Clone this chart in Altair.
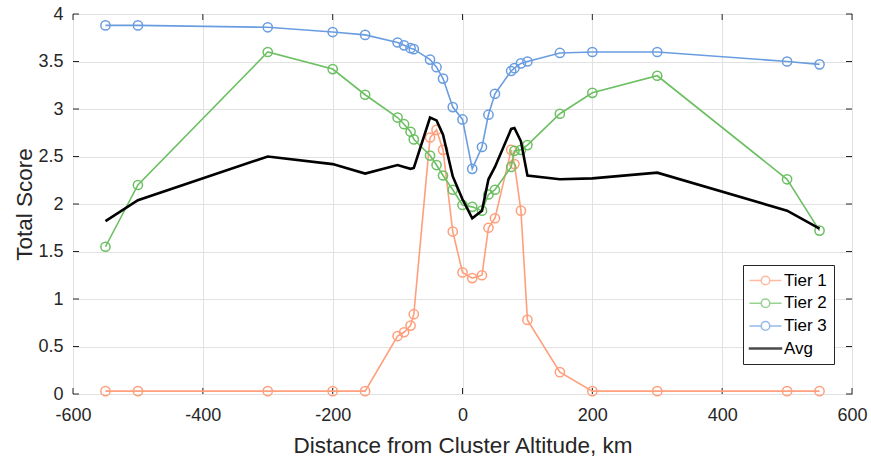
import altair as alt
import pandas as pd

# Distance from cluster altitude (km) and scores per tier
distance_km = [-550, -500, -300, -200, -150, -100, -90, -80, -75, -50, -40, -30, -15, 0,
               15, 30, 40, 50, 75, 80, 90, 100, 150, 200, 300, 500, 550]
tier1 = [0.03, 0.03, 0.03, 0.03, 0.03, 0.61, 0.65, 0.72, 0.84, 2.70, 2.78, 2.57, 1.71, 1.28,
         1.22, 1.25, 1.75, 1.85, 2.57, 2.42, 1.93, 0.78, 0.23, 0.03, 0.03, 0.03, 0.03]
tier2 = [1.55, 2.20, 3.60, 3.42, 3.15, 2.91, 2.84, 2.76, 2.68, 2.51, 2.41, 2.30, 2.15, 1.99,
         1.97, 1.93, 2.10, 2.15, 2.39, 2.56, 2.57, 2.62, 2.95, 3.17, 3.35, 2.26, 1.72]
tier3 = [3.88, 3.88, 3.86, 3.81, 3.78, 3.70, 3.67, 3.64, 3.63, 3.52, 3.44, 3.32, 3.02, 2.89,
         2.37, 2.60, 2.94, 3.16, 3.40, 3.43, 3.48, 3.50, 3.59, 3.60, 3.60, 3.50, 3.47]
avg = [1.82, 2.04, 2.50, 2.42, 2.32, 2.41, 2.39, 2.37, 2.38, 2.91, 2.88, 2.73, 2.29, 2.05,
       1.85, 1.93, 2.26, 2.39, 2.79, 2.80, 2.66, 2.30, 2.26, 2.27, 2.33, 1.93, 1.74]

series_names = ["Tier 1", "Tier 2", "Tier 3", "Avg"]
series_colors = ["#FF9F7C", "#6CBF62", "#6A9DE0", "#000000"]

x_ticks = [-600, -400, -200, 0, 200, 400, 600]
y_ticks = [0, 0.5, 1, 1.5, 2, 2.5, 3, 3.5, 4]

W, H = 779, 380
FONT = "Liberation Sans"
INK = "#262626"

rows = []
for name, vals in zip(series_names, [tier1, tier2, tier3, avg]):
    for d, v in zip(distance_km, vals):
        rows.append({"distance": d, "score": v, "series": name})
df = pd.DataFrame(rows)

x_scale = alt.Scale(domain=[-600, 600], nice=False, zero=False)
y_scale = alt.Scale(domain=[0, 4], nice=False, zero=False)

x_axis = alt.Axis(values=x_ticks, title="Distance from Cluster Altitude, km", ticks=False,
                  domain=False, grid=True, labelPadding=12, titlePadding=10, labelFlush=False,
                  labelExpr="toString(datum.value)")
y_axis = alt.Axis(values=y_ticks, title="Total Score", ticks=False, domain=False, grid=True,
                  labelPadding=10, titlePadding=1, labelFlush=False,
                  labelExpr="toString(datum.value)")

x_enc = alt.X("distance:Q", scale=x_scale, axis=x_axis)
y_enc = alt.Y("score:Q", scale=y_scale, axis=y_axis)

base = alt.Chart(df)
layers = []

# Inward tick marks on all four sides of the box (shared scales and axes)
xt = alt.Chart(pd.DataFrame({"distance": x_ticks}))
yt = alt.Chart(pd.DataFrame({"score": y_ticks}))
layers.append(xt.mark_rule(color=INK, strokeWidth=1).encode(x=x_enc, y=alt.value(H), y2=alt.value(H - 6)))
layers.append(xt.mark_rule(color=INK, strokeWidth=1).encode(x=x_enc, y=alt.value(0), y2=alt.value(6)))
layers.append(yt.mark_rule(color=INK, strokeWidth=1).encode(y=y_enc, x=alt.value(0), x2=alt.value(6)))
layers.append(yt.mark_rule(color=INK, strokeWidth=1).encode(y=y_enc, x=alt.value(W), x2=alt.value(W - 6)))

for name, color in zip(series_names[:3], series_colors[:3]):
    sub = base.transform_filter(alt.datum.series == name)
    layers.append(sub.mark_line(color=color, strokeWidth=1.6).encode(x=x_enc, y=y_enc))
    layers.append(sub.mark_point(color=color, filled=False, size=85, strokeWidth=1.5,
                                 opacity=1).encode(x=x_enc, y=y_enc))

layers.append(base.transform_filter(alt.datum.series == "Avg")
              .mark_line(color="#000000", strokeWidth=2.6).encode(x=x_enc, y=y_enc))

# Legend symbols: short line with an open circle, plain thick line for the average
tier_sym = "M-3.2,0H-0.86M0.86,0H3.2M-0.86,0A0.86,0.86,0,1,0,0.86,0A0.86,0.86,0,1,0,-0.86,0"
avg_sym = "M-3.2,-0.1H3.2V0.1H-3.2Z"
legend_layer = base.transform_filter("false").mark_point(filled=False, strokeWidth=1.5).encode(
    color=alt.Color("series:N", scale=alt.Scale(domain=series_names, range=series_colors),
                    legend=alt.Legend(title=None, orient="none", legendX=670, legendY=251,
                                      padding=7, fillColor="white", strokeColor=INK,
                                      labelFont=FONT, labelFontSize=17, labelColor="#000000",
                                      symbolSize=100, symbolStrokeWidth=1.5, symbolOffset=7,
                                      labelOffset=10, rowPadding=4.7)),
    shape=alt.Shape("series:N", scale=alt.Scale(domain=series_names,
                                                 range=[tier_sym, tier_sym, tier_sym, avg_sym])),
)
layers.append(legend_layer)

chart = alt.layer(*layers).properties(
    width=W, height=H,
    autosize=alt.AutoSizeParams(type="none"),
    padding={"left": 73, "top": 14, "right": 19, "bottom": 62},
    background="white",
).configure_view(
    stroke=INK, strokeWidth=1,
).configure_axis(
    labelFont=FONT, labelFontSize=18, labelColor=INK,
    titleFont=FONT, titleFontSize=22.5, titleColor=INK, titleFontWeight="normal",
    gridColor="#E2E2E2", gridWidth=1,
)

chart.save("out.html", embed_options={"renderer": "svg", "actions": False})
